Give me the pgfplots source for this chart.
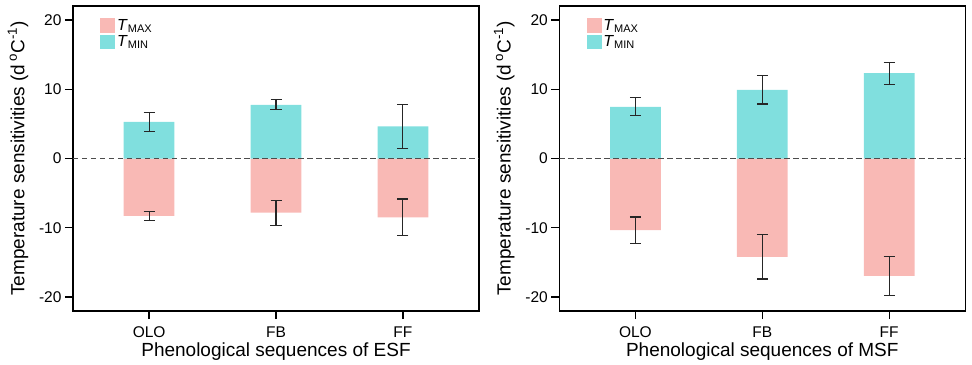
\documentclass[border=0pt]{standalone}
\usepackage{pgfplots}
\pgfplotsset{compat=1.18}
\usepackage{fontspec}
\setmainfont{Liberation Sans}
\definecolor{tmax}{RGB}{249,185,181}
\definecolor{tmin}{RGB}{128,223,222}
\pgfplotstableread{
x  tmax   tmaxe  tmin  tmine
1  -8.27  0.67   5.30  1.35
2  -7.82  1.80   7.75  0.72
3  -8.50  2.65   4.65  3.15
}\esf
\pgfplotstableread{
x  tmax   tmaxe  tmin  tmine
1  -10.35 1.90   7.45  1.30
2  -14.18 3.20   9.90  2.05
3  -16.95 2.87   12.30 1.60
}\msf
\newcommand{\leg}[1]{{\fontsize{16bp}{16bp}\selectfont\textit{T}\fontsize{11bp}{11bp}\selectfont\raisebox{-2bp}{#1}}}
\pgfplotsset{
  myaxis/.style={
    scale only axis, width=406bp, height=305bp,
    xmin=0.4, xmax=3.6, ymin=-22, ymax=22,
    xtick={1,2,3}, xticklabels={OLO,FB,FF},
    ytick={-20,-10,0,10,20},
    tick align=outside, tick pos=left,
    major tick length=8bp,
    axis line style={line width=1.3bp},
    every tick/.style={black, line width=1.3bp},
    ticklabel style={font=\fontsize{15.5bp}{15.5bp}\selectfont},
    label style={font=\fontsize{19bp}{19bp}\selectfont},
    /pgf/number format/assume math mode=true,
    ylabel={Temperature sensitivities (d\,\textsuperscript{o}C\textsuperscript{-1})},
    ylabel style={yshift=4bp},
    xlabel style={yshift=2bp},
    xticklabel style={yshift=-4bp},
    legend style={at={(27bp,294bp)}, anchor=north west, draw=none, fill=none,
      row sep=0bp, inner sep=0pt,
      cells={anchor=west}},
    legend image code/.code={\fill (0bp,-7.3bp) rectangle (15bp,7.3bp);},
  },
  mybar/.style={ybar, bar width=0.4, bar shift=0pt, draw=none, fill=#1,
    error bars/.cd, y dir=both, y explicit,
    error bar style={line width=1.2bp, black!85},
    error mark options={rotate=90, mark size=5.5bp, line width=1.2bp, black!85}},
}
\begin{document}
\begin{tikzpicture}
\useasboundingbox (-73bp,-54bp) rectangle (899bp,311bp);
\begin{axis}[myaxis, xlabel={Phenological sequences of ESF}]
\addplot[mybar=tmax] table[x=x, y=tmax, y error=tmaxe]{\esf};
\addlegendentry{\leg{MAX}}
\addplot[mybar=tmin] table[x=x, y=tmin, y error=tmine]{\esf};
\addlegendentry{\leg{MIN}}
\draw[black!70, line width=1.3bp, dash pattern=on 5.5bp off 3.5bp] (axis cs:0.4,0) -- (axis cs:3.6,0);
\end{axis}
\begin{axis}[myaxis, xshift=486.3bp, xlabel={Phenological sequences of MSF}]
\addplot[mybar=tmax] table[x=x, y=tmax, y error=tmaxe]{\msf};
\addlegendentry{\leg{MAX}}
\addplot[mybar=tmin] table[x=x, y=tmin, y error=tmine]{\msf};
\addlegendentry{\leg{MIN}}
\draw[black!70, line width=1.3bp, dash pattern=on 5.5bp off 3.5bp] (axis cs:0.4,0) -- (axis cs:3.6,0);
\end{axis}
\end{tikzpicture}
\end{document}
